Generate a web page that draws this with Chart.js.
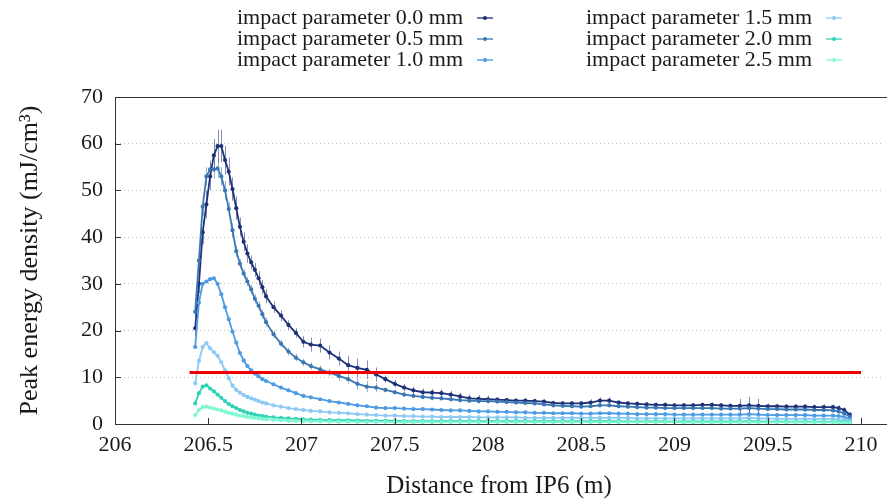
<!DOCTYPE html>
<html>
<head>
<meta charset="utf-8">
<script src="https://cdn.jsdelivr.net/npm/chart.js@4.4.1/dist/chart.umd.min.js"></script>
<style>
  html, body { margin: 0; padding: 0; background: #fff; }
  #wrap { width: 887px; height: 501px; }
</style>
</head>
<body>
<div id="wrap"><canvas id="c" width="887" height="501"></canvas></div>
<script>
// Peak energy density vs distance from IP6, one series per impact parameter.
// Values; error bars only on the two top series.

var xPos = [206.43,206.45,206.47,206.49,206.51,206.53,206.55,206.57,206.59,206.61,
  206.63,206.65,206.67,206.69,206.71,206.73,206.75,206.77,206.79,206.81,
  206.85,206.89,206.93,206.97,207.01,
  207.05,207.10,207.15,207.20,207.25,207.30,207.35,207.40,207.45,207.50,
  207.55,207.60,207.65,207.70,207.75,207.80,207.85,207.90,207.95,208.00,
  208.05,208.10,208.15,208.20,208.25,208.30,208.35,208.40,208.45,208.50,
  208.55,208.60,208.65,208.70,208.75,208.80,208.85,208.90,208.95,209.00,
  209.05,209.10,209.15,209.20,209.25,209.30,209.35,209.40,209.45,209.50,
  209.55,209.60,209.65,209.70,209.75,209.80,209.85,
  209.88,209.91,209.94];

var ip00 = [20.5,30,41,47,53,57.5,59.5,59.5,56.5,54,
  50.3,46.2,42.2,39,36.5,34.6,33,31.2,29.3,27.3,
  25.0,23.2,21.2,19.5,17.6,
  17.0,16.8,15.3,14.0,12.6,12.0,11.6,10.6,9.6,8.6,
  7.8,7.2,6.8,6.7,6.6,6.3,5.9,5.5,5.4,5.3,
  5.2,5.1,5.0,5.0,4.9,4.8,4.5,4.4,4.4,4.4,
  4.6,5.0,5.0,4.6,4.4,4.3,4.2,4.1,4.1,4.0,
  4.0,4.0,4.1,4.1,4.0,3.9,3.9,4.0,3.9,3.8,
  3.8,3.7,3.7,3.7,3.6,3.6,3.6,
  3.4,3.0,2.0];

var ip05 = [24,35,46.5,53,54.5,54.5,54.7,53,50,46,
  41.5,37,34.3,32.2,30.5,28.8,26.8,25.3,23.5,21.8,
  19.2,17.2,15.5,14.2,13.2,
  12.4,11.7,11.0,10.3,9.6,8.6,8.0,7.8,7.3,6.8,
  6.3,6.0,5.8,5.6,5.5,5.3,5.1,5.0,4.9,4.9,
  4.8,4.7,4.6,4.5,4.4,4.2,4.0,3.9,3.8,3.7,
  3.8,4.0,4.0,3.8,3.7,3.6,3.5,3.5,3.4,3.4,
  3.4,3.4,3.4,3.4,3.3,3.3,3.3,3.4,3.3,3.2,
  3.2,3.1,3.1,3.1,3.0,3.0,2.9,
  2.7,2.3,1.6];

var ip10 = [16.5,26,30,30.5,31,31.2,30,27.8,25,22.4,
  19.8,17.4,15.2,13.6,12.4,11.5,10.8,10.2,9.6,9.2,
  8.5,7.8,7.2,6.6,6.0,
  5.7,5.3,4.9,4.6,4.3,4.0,3.8,3.5,3.4,3.4,
  3.3,3.2,3.2,3.1,3.0,2.9,2.9,2.8,2.7,2.7,
  2.6,2.6,2.5,2.5,2.4,2.4,2.3,2.3,2.3,2.2,
  2.2,2.3,2.3,2.2,2.2,2.1,2.1,2.1,2.1,2.0,
  2.0,2.0,2.0,2.0,2.0,2.0,2.0,2.1,2.0,1.9,
  1.9,1.9,1.9,1.9,1.8,1.8,1.8,
  1.7,1.5,1.0];

var ip15 = [8.7,13.5,16.5,17.3,16.2,15.4,14.6,13.2,11.5,9.8,
  8.2,7.3,6.7,6.2,5.8,5.5,5.2,4.9,4.6,4.4,
  4.0,3.7,3.4,3.2,3.0,
  2.8,2.7,2.5,2.4,2.3,2.1,2.0,1.9,1.8,1.8,
  1.7,1.7,1.6,1.6,1.5,1.5,1.5,1.5,1.4,1.4,
  1.4,1.4,1.4,1.3,1.3,1.3,1.3,1.3,1.3,1.3,
  1.3,1.3,1.3,1.3,1.3,1.2,1.2,1.2,1.2,1.2,
  1.2,1.2,1.2,1.2,1.2,1.2,1.2,1.3,1.2,1.2,
  1.1,1.1,1.1,1.1,1.1,1.1,1.1,
  1.0,0.9,0.6];

var ip20 = [4.4,6.6,8.0,8.3,7.6,7.0,6.3,5.6,4.9,4.3,
  3.8,3.4,3.0,2.7,2.4,2.2,2.0,1.8,1.7,1.6,
  1.4,1.3,1.2,1.1,1.0,
  0.95,0.9,0.85,0.8,0.8,0.75,0.7,0.7,0.7,0.65,
  0.6,0.6,0.6,0.6,0.6,0.6,0.6,0.6,0.6,0.6,
  0.6,0.6,0.6,0.6,0.6,0.6,0.6,0.6,0.6,0.6,
  0.6,0.6,0.6,0.6,0.55,0.55,0.55,0.55,0.55,0.55,
  0.55,0.55,0.55,0.55,0.55,0.55,0.55,0.6,0.55,0.5,
  0.5,0.5,0.5,0.5,0.5,0.5,0.5,
  0.45,0.4,0.3];

var ip25 = [1.9,3.0,3.6,3.7,3.5,3.3,3.1,2.9,2.6,2.4,
  2.2,2.0,1.8,1.7,1.5,1.4,1.3,1.2,1.1,1.0,
  0.9,0.8,0.7,0.65,0.6,
  0.55,0.55,0.5,0.5,0.5,0.45,0.45,0.45,0.45,0.4,
  0.4,0.4,0.4,0.4,0.4,0.4,0.4,0.4,0.4,0.4,
  0.4,0.4,0.4,0.4,0.4,0.4,0.4,0.4,0.4,0.4,
  0.4,0.4,0.4,0.4,0.4,0.4,0.4,0.4,0.4,0.4,
  0.35,0.35,0.35,0.35,0.35,0.35,0.35,0.4,0.35,0.35,
  0.35,0.35,0.35,0.35,0.35,0.35,0.35,
  0.3,0.25,0.2];

var err00 = [1.5,2,2.5,3,3,3.5,3.5,3.5,3,3,
  2.5,2.5,2,2,2,1.5,1.5,1.5,1.5,1.5,
  1.2,1.2,1.0,1.0,1.2,
  1.5,1.5,1.5,1.5,2,2,2,1.5,0.8,0.8,
  0.8,0.8,0.8,0.8,0.8,0.8,0.8,0.8,0.8,0.8,
  0.5,0.5,0.5,0.5,0.5,0.5,0.5,0.5,0.5,0.5,
  0.7,0.7,0.7,0.5,0.5,0.5,0.5,0.5,0.5,0.5,
  0.5,0.5,0.5,0.5,0.5,0.5,1.5,1.8,1.5,0.6,
  0.6,0.6,0.6,0.6,0.6,0.6,0.6,
  0.6,0.6,0.5];

var err05 = [1,1.5,2,2,2,2,2,2,2,1.5,
  1.5,1.2,1,1,1,1,1,1,1,1,
  0.8,0.8,0.8,0.8,0.8,
  0.8,0.8,0.8,1,1,1.2,1.2,1,0.5,0.5,
  0.5,0.5,0.5,0.5,0.5,0.5,0.5,0.5,0.5,0.5,
  0.4,0.4,0.4,0.4,0.4,0.4,0.4,0.4,0.4,0.4,
  0.4,0.4,0.4,0.4,0.4,0.4,0.4,0.4,0.4,0.4,
  0.4,0.4,0.4,0.4,0.4,0.4,1.2,1.5,1.2,0.4,
  0.4,0.4,0.4,0.4,0.4,0.4,0.4,
  0.4,0.4,0.3];

var LABELS = ["impact parameter 0.0 mm", "impact parameter 0.5 mm", "impact parameter 1.0 mm",
              "impact parameter 1.5 mm", "impact parameter 2.0 mm", "impact parameter 2.5 mm"];
var SERIES = [ip00, ip05, ip10, ip15, ip20, ip25];
var ERRORS = [err00, err05, null, null, null, null];
var COLORS = ["#1d3178", "#3a76b2", "#4d9be4", "#8ccaf5", "#2fd3b4", "#80f7d2"];

var xTicks = [206, 206.5, 207, 207.5, 208, 208.5, 209, 209.5, 210];

// red threshold line
var limitX = [206.4, 210.0];
var limitY = [11, 11];

var FONT = "'Liberation Serif', 'Times New Roman', serif";
var INK = "#1a1a1a";
var FRAME = "#333";

function pts(xs, ys) {
  return xs.map(function (x, i) { return { x: x, y: ys[i] }; });
}

var datasets = SERIES.map(function (ys, i) {
  return {
    label: LABELS[i], data: pts(xPos, ys), errors: ERRORS[i],
    borderColor: COLORS[i], backgroundColor: COLORS[i],
    borderWidth: 1.8, pointRadius: 2.1, pointBorderWidth: 0, tension: 0, order: 6 - i
  };
});
datasets.push({
  label: "limit", data: pts(limitX, limitY), borderColor: "#f00000",
  borderWidth: 3, pointRadius: 0, tension: 0, order: -1, legend: false
});

function hexAlpha(hex, a) {
  var n = parseInt(hex.slice(1), 16);
  return "rgba(" + (n >> 16) + "," + ((n >> 8) & 255) + "," + (n & 255) + "," + a + ")";
}

var errorBars = {
  id: "errorBars",
  beforeDatasetsDraw: function (chart) {
    var ctx = chart.ctx, xs = chart.scales.x, ys = chart.scales.y;
    ctx.save();
    ctx.lineWidth = 1;
    chart.data.datasets.forEach(function (ds) {
      if (!ds.errors) return;
      ctx.strokeStyle = hexAlpha(ds.borderColor, 0.55);
      ds.data.forEach(function (p, j) {
        var e = ds.errors[j];
        var px = Math.round(xs.getPixelForValue(p.x)) + 0.5;
        ctx.beginPath();
        ctx.moveTo(px, ys.getPixelForValue(p.y - e));
        ctx.lineTo(px, ys.getPixelForValue(p.y + e));
        ctx.stroke();
      });
    });
    ctx.restore();
  }
};

// gnuplot-ish frame: top border and inward tick marks
var frame = {
  id: "frame",
  afterDraw: function (chart) {
    var ctx = chart.ctx, a = chart.chartArea, xs = chart.scales.x, ys = chart.scales.y;
    ctx.save();
    ctx.strokeStyle = FRAME;
    ctx.lineWidth = 1;
    ctx.beginPath();
    ctx.moveTo(a.left, a.top + 0.5); ctx.lineTo(chart.width, a.top + 0.5);
    ctx.moveTo(a.right, a.bottom + 0.5); ctx.lineTo(chart.width, a.bottom + 0.5);
    xs.ticks.forEach(function (t) {
      var px = Math.round(xs.getPixelForValue(t.value)) + 0.5;
      ctx.moveTo(px, a.bottom); ctx.lineTo(px, a.bottom - 6);
    });
    ys.ticks.forEach(function (t) {
      var py = Math.round(ys.getPixelForValue(t.value)) + 0.5;
      ctx.moveTo(a.left, py); ctx.lineTo(a.left + 6, py);
    });
    ctx.stroke();
    ctx.restore();
  }
};

// two-column key, text right-aligned with the sample after it
var keyBox = {
  id: "keyBox",
  afterDraw: function (chart) {
    var ctx = chart.ctx;
    var colRight = [463, 812], rowY = [18, 39, 60];
    ctx.save();
    ctx.font = "22px " + FONT;
    ctx.textAlign = "right";
    ctx.textBaseline = "middle";
    chart.data.datasets.forEach(function (ds, i) {
      if (ds.legend === false) return;
      var cx = colRight[Math.floor(i / 3)], cy = rowY[i % 3];
      ctx.fillStyle = INK;
      ctx.fillText(ds.label, cx, cy);
      ctx.strokeStyle = ds.borderColor;
      ctx.fillStyle = ds.borderColor;
      ctx.lineWidth = 1.3;
      ctx.beginPath(); ctx.moveTo(cx + 14, cy); ctx.lineTo(cx + 30, cy); ctx.stroke();
      ctx.beginPath(); ctx.arc(cx + 22, cy, 2, 0, Math.PI * 2); ctx.fill();
    });
    ctx.restore();
  }
};

new Chart(document.getElementById("c"), {
  type: "line",
  data: { datasets: datasets },
  plugins: [errorBars, frame, keyBox],
  options: {
    responsive: false,
    animation: false,
    devicePixelRatio: 1,
    layout: { padding: { top: 97, right: 0, left: 0, bottom: 0 } },
    plugins: { legend: { display: false }, tooltip: { enabled: false } },
    scales: {
      x: {
        type: "linear", min: 206, max: 210.118,
        afterBuildTicks: function (s) {
          s.ticks = xTicks.map(function (v) { return { value: v }; });
        },
        afterFit: function (s) { s.height = 77; },
        ticks: { autoSkip: false, maxRotation: 0, padding: 8, color: INK,
                 font: { family: FONT, size: 22 },
                 callback: function (v) { return String(v); } },
        grid: { display: false, drawTicks: false },
        border: { display: true, color: FRAME, width: 1 },
        title: { display: true, text: "Distance from IP6 (m)", color: INK,
                 font: { family: FONT, size: 25 }, padding: { top: 0, bottom: 0 } }
      },
      y: {
        min: 0, max: 70,
        afterFit: function (s) { s.width = 115; },
        ticks: { stepSize: 10, padding: 12, color: INK, font: { family: FONT, size: 22 } },
        grid: { drawTicks: false, lineWidth: 1,
                color: function (c) { return (c.tick && (c.tick.value === 0 || c.tick.value === 70)) ? "rgba(0,0,0,0)" : "#bdbdbd"; } },
        border: { display: true, color: FRAME, width: 1, dash: [1, 3] },
        title: { display: true, text: "Peak energy density (mJ/cm³)", color: INK,
                 font: { family: FONT, size: 26 }, padding: { top: 15, bottom: 0 } }
      }
    }
  }
});
</script>
</body>
</html>
